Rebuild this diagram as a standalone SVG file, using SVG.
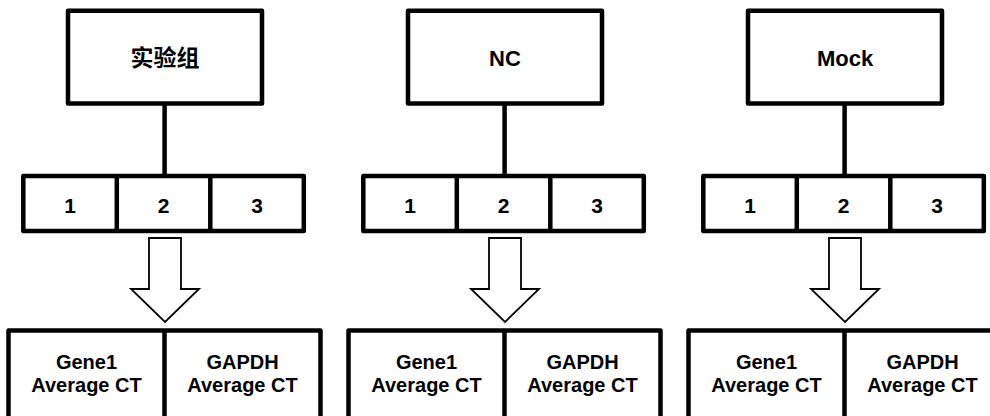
<svg xmlns="http://www.w3.org/2000/svg" width="990" height="416" viewBox="0 0 990 416">
<style>
.box{fill:#fff;stroke:#000;stroke-width:4.5;stroke-linejoin:round}
.div{stroke:#000;stroke-width:4.5}
.line{stroke:#000;stroke-width:4.5;fill:none}
.arrow{fill:#fff;stroke:#000;stroke-width:1.8;stroke-linejoin:miter}
text{font-family:"Liberation Sans",Arial,"Noto Sans CJK SC",sans-serif;font-weight:bold;fill:#000;text-anchor:middle}
.t{font-size:22px}
.c{font-size:23px}
.n{font-size:21px}
.b{font-size:20px}
</style>
<rect width="990" height="416" fill="#fff"/>
<g id="connectors">
  <line class="line" x1="164.6" y1="103.5" x2="164.6" y2="176"/>
  <line class="line" x1="504.6" y1="103.5" x2="504.6" y2="176"/>
  <line class="line" x1="844.6" y1="103.5" x2="844.6" y2="176"/>
  <path class="arrow" d="M149,238 H181 V289 H199 L165,322 L131,289 H149 Z"/>
  <path class="arrow" d="M489,238 H521 V289 H539 L505,322 L471,289 H489 Z"/>
  <path class="arrow" d="M829,238 H861 V289 H879 L845,322 L811,289 H829 Z"/>
</g>
<g id="group-exp">
  <rect class="box" x="68" y="10.8" width="194" height="92.7"/>
  <text class="c" x="165" y="66">实验组</text>
</g>
<g id="reps-exp">
  <rect class="box" x="23.3" y="176" width="280.5" height="55"/>
  <line class="div" x1="116.8" y1="176" x2="116.8" y2="231"/>
  <line class="div" x1="210.3" y1="176" x2="210.3" y2="231"/>
  <text class="n" x="70" y="212.5">1</text>
  <text class="n" x="163.5" y="212.5">2</text>
  <text class="n" x="257" y="212.5">3</text>
</g>
<g id="ct-exp">
  <rect class="box" x="8.5" y="330.5" width="312" height="110"/>
  <line class="div" x1="164.5" y1="330.5" x2="164.5" y2="440"/>
  <text class="b" x="86.5" y="369">Gene1</text>
  <text class="b" x="86.5" y="392">Average CT</text>
  <text class="b" x="242.5" y="369">GAPDH</text>
  <text class="b" x="242.5" y="392">Average CT</text>
</g>
<g id="group-nc">
  <rect class="box" x="408" y="10.8" width="194" height="92.7"/>
  <text class="t" x="505" y="66">NC</text>
</g>
<g id="reps-nc">
  <rect class="box" x="363.3" y="176" width="280.5" height="55"/>
  <line class="div" x1="456.8" y1="176" x2="456.8" y2="231"/>
  <line class="div" x1="550.3" y1="176" x2="550.3" y2="231"/>
  <text class="n" x="410" y="212.5">1</text>
  <text class="n" x="503.5" y="212.5">2</text>
  <text class="n" x="597" y="212.5">3</text>
</g>
<g id="ct-nc">
  <rect class="box" x="348.5" y="330.5" width="312" height="110"/>
  <line class="div" x1="504.5" y1="330.5" x2="504.5" y2="440"/>
  <text class="b" x="426.5" y="369">Gene1</text>
  <text class="b" x="426.5" y="392">Average CT</text>
  <text class="b" x="582.5" y="369">GAPDH</text>
  <text class="b" x="582.5" y="392">Average CT</text>
</g>
<g id="group-mock">
  <rect class="box" x="748" y="10.8" width="194" height="92.7"/>
  <text class="t" x="845" y="66">Mock</text>
</g>
<g id="reps-mock">
  <rect class="box" x="703.3" y="176" width="280.5" height="55"/>
  <line class="div" x1="796.8" y1="176" x2="796.8" y2="231"/>
  <line class="div" x1="890.3" y1="176" x2="890.3" y2="231"/>
  <text class="n" x="750" y="212.5">1</text>
  <text class="n" x="843.5" y="212.5">2</text>
  <text class="n" x="937" y="212.5">3</text>
</g>
<g id="ct-mock">
  <rect class="box" x="688.5" y="330.5" width="312" height="110"/>
  <line class="div" x1="844.5" y1="330.5" x2="844.5" y2="440"/>
  <text class="b" x="766.5" y="369">Gene1</text>
  <text class="b" x="766.5" y="392">Average CT</text>
  <text class="b" x="922.5" y="369">GAPDH</text>
  <text class="b" x="922.5" y="392">Average CT</text>
</g>
</svg>
